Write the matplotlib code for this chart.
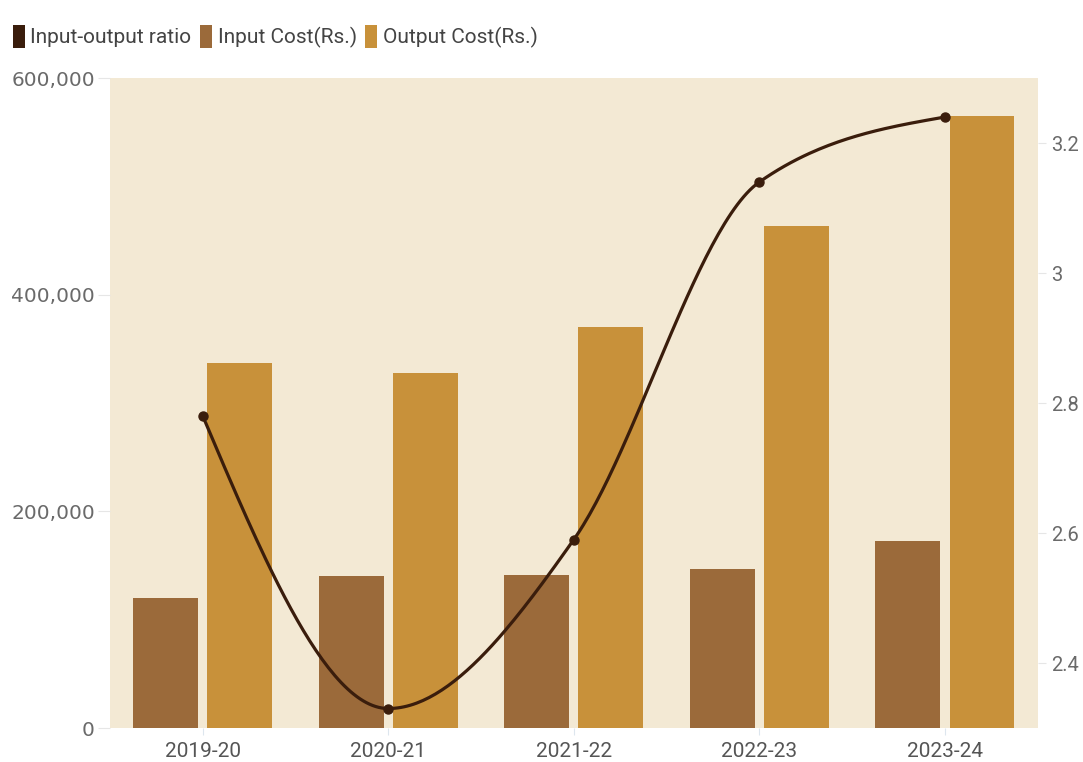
import numpy as np
import matplotlib.pyplot as plt
from matplotlib.patches import Patch
from matplotlib.ticker import FuncFormatter

# Data
years = ["2019-20", "2020-21", "2021-22", "2022-23", "2023-24"]
input_cost = [120000, 140000, 141000, 147000, 173000]
output_cost = [337000, 328000, 370000, 463000, 565000]
io_ratio = [2.78, 2.33, 2.59, 3.14, 3.24]

c_input = "#9B6A3A"
c_output = "#C8913A"
c_line = "#3A1D0C"
c_bg = "#F3E9D4"
c_text = "#555555"

narrow = ["Roboto", "DejaVu Sans"]


def smooth_line(xs, ys, n=60):
    # monotone-x cubic (same idea as d3.curveMonotoneX), only for drawing the line
    xs = np.asarray(xs, float)
    ys = np.asarray(ys, float)
    h = np.diff(xs)
    s = np.diff(ys) / h
    m = np.zeros_like(ys)
    for i in range(1, len(ys) - 1):
        p = (s[i - 1] * h[i] + s[i] * h[i - 1]) / (h[i - 1] + h[i])
        m[i] = (np.sign(s[i - 1]) + np.sign(s[i])) * min(abs(s[i - 1]), abs(s[i]), 0.5 * abs(p))
    m[0] = (3 * s[0] - m[1]) / 2
    m[-1] = (3 * s[-1] - m[-2]) / 2
    px, py = [], []
    for i in range(len(xs) - 1):
        t = np.linspace(0, 1, n)
        h00 = 2 * t**3 - 3 * t**2 + 1
        h10 = t**3 - 2 * t**2 + t
        h01 = -2 * t**3 + 3 * t**2
        h11 = t**3 - t**2
        px.append(xs[i] + t * h[i])
        py.append(h00 * ys[i] + h10 * h[i] * m[i] + h01 * ys[i + 1] + h11 * h[i] * m[i + 1])
    return np.concatenate(px), np.concatenate(py)


fig = plt.figure(figsize=(10.83, 7.62), dpi=100)
ax = fig.add_axes([0.1016, 0.0446, 0.8565, 0.853])
ax.set_facecolor(c_bg)

x = np.arange(len(years))
w = 0.35
ax.bar(x - 0.2, input_cost, width=w, color=c_input, zorder=2)
ax.bar(x + 0.2, output_cost, width=w, color=c_output, zorder=2)

ax.set_xlim(-0.5, len(years) - 0.5)
ax.set_ylim(0, 600000)
ax.set_yticks([0, 200000, 400000, 600000])
ax.yaxis.set_major_formatter(FuncFormatter(lambda v, p: f"{int(v):,}"))
ax.set_xticks(x)
ax.set_xticklabels(years, family=narrow, fontsize=15, color=c_text)
for s in ax.spines.values():
    s.set_visible(False)
ax.tick_params(axis="y", length=9, width=0.8, color="#E6E6E6", labelsize=14.5,
               labelcolor="#6A6A6A", pad=2)
ax.tick_params(axis="x", length=5, width=0.8, color="#DDE6EE", pad=5)

ax2 = ax.twinx()
ax2.set_ylim(2.3, 3.3)
ax2.set_yticks([2.4, 2.6, 2.8, 3.0, 3.2])
ax2.yaxis.set_major_formatter(FuncFormatter(lambda v, p: f"{v:g}"))
for s in ax2.spines.values():
    s.set_visible(False)
ax2.tick_params(axis="y", length=6, width=0.8, color="#E6E6E6", pad=4)
for lbl in ax2.get_yticklabels():
    lbl.set_family(narrow)
    lbl.set_fontsize(14.5)
    lbl.set_color("#6A6A6A")

sx, sy = smooth_line(x, io_ratio)
ax2.plot(sx, sy, color=c_line, linewidth=2.3, zorder=3, clip_on=False)
ax2.plot(x, io_ratio, "o", color=c_line, markersize=6.5, zorder=4, clip_on=False)

handles = [Patch(facecolor=c_line), Patch(facecolor=c_input), Patch(facecolor=c_output)]
labels = ["Input-output ratio", "Input Cost(Rs.)", "Output Cost(Rs.)"]
leg = fig.legend(handles, labels, loc="upper left", bbox_to_anchor=(0.004, 0.978),
                 ncol=3, frameon=False, handlelength=0.6, handleheight=1.3,
                 handletextpad=0.25, columnspacing=0.4, borderaxespad=0,
                 prop={"family": narrow, "size": 15})
for t in leg.get_texts():
    t.set_color("#444444")

fig.savefig("out.png", dpi=100, facecolor="white")
